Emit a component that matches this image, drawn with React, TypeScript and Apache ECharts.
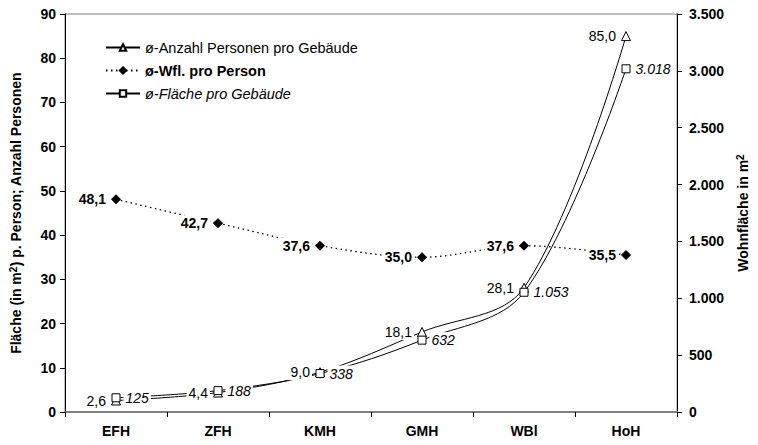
import React, { useEffect, useRef } from "react";
import * as echarts from "echarts";

const categories = ["EFH", "ZFH", "KMH", "GMH", "WBl", "HoH"];
const personsPerBuilding = [2.6, 4.4, 9.0, 18.1, 28.1, 85.0];
const areaPerPerson = [48.1, 42.7, 37.6, 35.0, 37.6, 35.5];
const areaPerBuilding = [125, 188, 338, 632, 1053, 3018];
const seriesNames = ["ø-Anzahl Personen pro Gebäude", "ø-Wfl. pro Person", "ø-Fläche pro Gebäude"];

const FONT = "'Liberation Sans', Arial, sans-serif";
const dec = (v: number) => v.toFixed(1).replace(".", ",");
const thou = (v: number) => String(v).replace(/\B(?=(\d{3})+(?!\d))/g, ".");

export default function App() {
  const ref = useRef<HTMLDivElement>(null);
  useEffect(() => {
    if (!ref.current) return;
    const chart = echarts.init(ref.current, null, { renderer: "svg" });
    const labelBase = {
      show: true,
      fontFamily: FONT,
      fontSize: 14,
      color: "#000",
      backgroundColor: "#fff",
      padding: [1, 2, 1, 2],
      distance: 3,
    };
    const nameStyle = {
      fontFamily: FONT,
      fontSize: 14,
      fontWeight: "bold",
      color: "#000",
      rich: {
        sup: { fontFamily: FONT, fontSize: 10, fontWeight: "bold", color: "#000", verticalAlign: "top", lineHeight: 16 },
      },
    };
    const legendText = { fontFamily: FONT, fontSize: 14.5, color: "#000" };
    chart.setOption({
      animation: false,
      backgroundColor: "#fff",
      textStyle: { fontFamily: FONT, color: "#000" },
      grid: {
        left: 64,
        right: 72,
        top: 14,
        bottom: 33,
        show: true,
        borderColor: "#808080",
        borderWidth: 1,
        backgroundColor: "transparent",
      },
      legend: {
        orient: "vertical",
        left: 100,
        top: 35,
        itemWidth: 34,
        itemHeight: 8,
        itemGap: 8,
        textStyle: legendText,
        data: [
          { name: seriesNames[0] },
          { name: seriesNames[1], textStyle: { ...legendText, fontWeight: "bold" } },
          { name: seriesNames[2], textStyle: { ...legendText, fontStyle: "italic" } },
        ],
      },
      xAxis: {
        type: "category",
        data: categories,
        boundaryGap: true,
        axisLine: { show: true, lineStyle: { color: "#808080", width: 2 } },
        axisTick: { show: true, length: 5, lineStyle: { color: "#000" } },
        axisLabel: { fontFamily: FONT, fontSize: 14, fontWeight: "bold", color: "#000", margin: 12 },
        splitLine: { show: false },
      },
      yAxis: [
        {
          type: "value",
          min: 0,
          max: 90,
          interval: 10,
          name: "Fläche (in m{sup|2}) p. Person; Anzahl Personen",
          nameLocation: "middle",
          nameGap: 41,
          nameTextStyle: nameStyle,
          axisLine: { show: true, lineStyle: { color: "#000", width: 1 } },
          axisTick: { show: true, length: 5, lineStyle: { color: "#000" } },
          axisLabel: { fontFamily: FONT, fontSize: 14, fontWeight: "bold", color: "#000", margin: 9 },
          splitLine: { show: false },
        },
        {
          type: "value",
          min: 0,
          max: 3500,
          interval: 500,
          position: "right",
          name: "Wohnfläche in m{sup|2}",
          nameLocation: "middle",
          nameGap: 58,
          nameTextStyle: nameStyle,
          axisLine: { show: true, lineStyle: { color: "#000", width: 1 } },
          axisTick: { show: true, length: 5, lineStyle: { color: "#000" } },
          axisLabel: {
            fontFamily: FONT,
            fontSize: 14,
            fontWeight: "bold",
            color: "#000",
            margin: 12,
            formatter: (v: number) => thou(v),
          },
          splitLine: { show: false },
        },
      ],
      series: [
        {
          name: seriesNames[0],
          type: "line",
          yAxisIndex: 0,
          data: personsPerBuilding,
          smooth: 0.35,
          symbol: "triangle",
          symbolSize: 9,
          itemStyle: { color: "#fff", borderColor: "#000", borderWidth: 1 },
          lineStyle: { color: "#000", width: 1 },
          label: { ...labelBase, position: "left", formatter: (p: any) => dec(p.value) },
          z: 2,
        },
        {
          name: seriesNames[1],
          type: "line",
          yAxisIndex: 0,
          data: areaPerPerson,
          smooth: 0.35,
          symbol: "diamond",
          symbolSize: 9,
          itemStyle: { color: "#000", borderColor: "#000", borderWidth: 1 },
          lineStyle: { color: "#000", width: 1.3, type: [1.5, 3.5] },
          label: { ...labelBase, position: "left", fontWeight: "bold", formatter: (p: any) => dec(p.value) },
          z: 2,
        },
        {
          name: seriesNames[2],
          type: "line",
          yAxisIndex: 1,
          data: areaPerBuilding,
          smooth: 0.35,
          symbol: "rect",
          symbolSize: 8,
          itemStyle: { color: "#fff", borderColor: "#000", borderWidth: 1 },
          lineStyle: { color: "#000", width: 1 },
          label: { ...labelBase, position: "right", fontStyle: "italic", formatter: (p: any) => thou(p.value) },
          z: 2,
        },
      ],
    });
    return () => chart.dispose();
  }, []);
  return <div ref={ref} style={{ width: 758, height: 445, margin: -8 }} />;
}
